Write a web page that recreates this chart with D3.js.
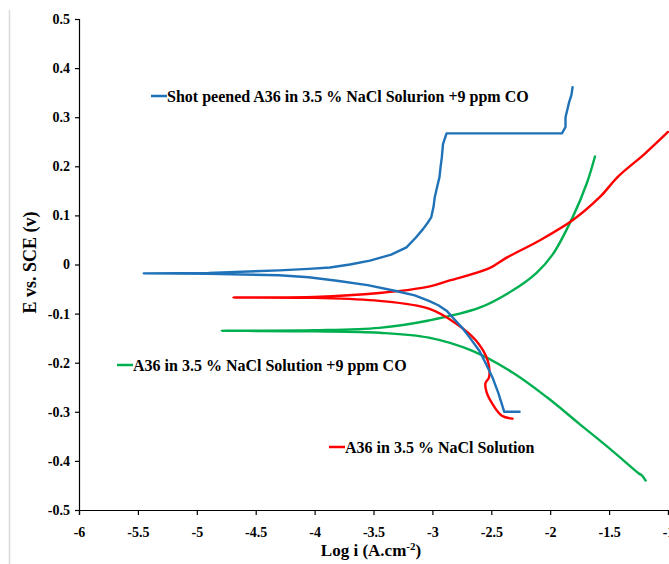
<!DOCTYPE html>
<html>
<head>
<meta charset="utf-8">
<script src="https://cdn.jsdelivr.net/npm/d3@7"></script>
<style>
  body { margin: 0; background: #fff; }
  .axis path, .axis line { stroke: #000; stroke-width: 1.2px; }
  .axis text { font-family: "Liberation Serif", "Times New Roman", serif; font-weight: bold; font-size: 14px; fill: #000; }
  .lbl { font-family: "Liberation Serif", "Times New Roman", serif; font-weight: bold; font-size: 16px; fill: #000; }
  .curve { fill: none; stroke-width: 2.4px; stroke-linejoin: round; stroke-linecap: round; }
</style>
</head>
<body>
<script>
// [log i, E], cathodic end -> Ecorr -> anodic end
var shotPeened = [
  [-2.26,-0.300],[-2.39,-0.300],[-2.44,-0.262],[-2.49,-0.230],[-2.55,-0.200],[-2.60,-0.176],[-2.68,-0.150],
  [-2.75,-0.128],[-2.82,-0.110],[-2.88,-0.094],[-2.95,-0.083],[-3.03,-0.074],[-3.15,-0.063],[-3.31,-0.054],
  [-3.55,-0.042],[-3.81,-0.033],[-4.05,-0.026],[-4.30,-0.022],[-4.90,-0.019],[-5.45,-0.018],
  [-4.90,-0.017],[-4.30,-0.012],[-4.05,-0.009],[-3.87,-0.006],[-3.70,0.000],[-3.53,0.008],[-3.35,0.020],
  [-3.22,0.035],[-3.14,0.055],[-3.08,0.072],[-3.04,0.085],[-3.01,0.096],[-2.99,0.118],[-2.98,0.137],
  [-2.96,0.158],[-2.94,0.178],[-2.93,0.200],[-2.92,0.218],[-2.91,0.245],[-2.88,0.267],[-1.90,0.267],
  [-1.87,0.280],[-1.87,0.300],[-1.84,0.330],[-1.82,0.345],[-1.81,0.361]
];
var naclOnly = [
  [-2.32,-0.314],[-2.41,-0.308],[-2.49,-0.284],[-2.54,-0.260],[-2.55,-0.242],[-2.52,-0.230],[-2.53,-0.196],
  [-2.63,-0.155],[-2.80,-0.120],[-3.03,-0.090],[-3.45,-0.074],[-4.00,-0.068],[-4.69,-0.067],
  [-4.00,-0.066],[-3.45,-0.058],[-3.03,-0.045],[-2.86,-0.033],[-2.52,-0.008],[-2.37,0.014],
  [-2.09,0.049],[-1.81,0.090],[-1.58,0.137],[-1.42,0.180],[-1.20,0.225],[-1.00,0.270]
];
var naclCO = [
  [-1.19,-0.440],[-1.22,-0.430],[-1.25,-0.425],[-1.47,-0.380],[-1.75,-0.325],[-2.03,-0.270],
  [-2.32,-0.220],[-2.66,-0.176],[-3.03,-0.149],[-3.45,-0.139],[-4.00,-0.136],[-4.79,-0.135],
  [-4.00,-0.134],[-3.45,-0.129],[-3.03,-0.114],[-2.60,-0.088],[-2.32,-0.053],[-2.12,-0.018],
  [-1.98,0.020],[-1.81,0.096],[-1.69,0.165],[-1.62,0.220]
];
var xTicks = [-6,-5.5,-5,-4.5,-4,-3.5,-3,-2.5,-2,-1.5,-1];
var yTicks = [-0.5,-0.4,-0.3,-0.2,-0.1,0,0.1,0.2,0.3,0.4,0.5];
var legendNames = [
  "Shot peened A36 in 3.5 % NaCl Solurion +9 ppm CO",
  "A36 in 3.5 % NaCl Solution +9 ppm CO",
  "A36 in 3.5 % NaCl Solution"
];

var W = 669, H = 564;
var margin = {top: 19, right: 1, bottom: 54, left: 79};

var svg = d3.select("body").append("svg")
    .attr("width", W)
    .attr("height", H);

// faint frame line on the left of the original image
svg.append("line")
    .attr("x1", 9.5).attr("x2", 9.5).attr("y1", 10).attr("y2", H)
    .attr("stroke", "#d9d9d9").attr("stroke-width", 1.5);

var x = d3.scaleLinear().domain([-6, -1]).range([margin.left, W - margin.right]);
var y = d3.scaleLinear().domain([-0.5, 0.5]).range([H - margin.bottom, margin.top]);

var fmt = function(d) { return String(+d.toFixed(1)); };

svg.append("g")
    .attr("class", "axis")
    .attr("transform", "translate(0," + y(-0.5) + ")")
    .call(d3.axisBottom(x).tickValues(xTicks).tickFormat(fmt).tickSizeOuter(0).tickSize(5).tickPadding(12));

svg.append("g")
    .attr("class", "axis")
    .attr("transform", "translate(" + x(-6) + ",0)")
    .call(d3.axisLeft(y).tickValues(yTicks).tickFormat(fmt).tickSizeOuter(0).tickSize(4).tickPadding(5));

var smooth = d3.line()
    .curve(d3.curveCatmullRom.alpha(0.5))
    .x(function(d) { return x(d[0]); })
    .y(function(d) { return y(d[1]); });
var rough = d3.line()
    .x(function(d) { return x(d[0]); })
    .y(function(d) { return y(d[1]); });

var series = [
  {data: naclCO, color: "#00b050", gen: smooth},
  {data: naclOnly, color: "#ff0000", gen: smooth},
  {data: shotPeened, color: "#1f72b8", gen: rough}
];

svg.selectAll(".curve")
    .data(series)
  .enter().append("path")
    .attr("class", "curve")
    .attr("stroke", function(d) { return d.color; })
    .attr("d", function(d) { return d.gen(d.data); });

// legends placed beside the curves
var legends = [
  {name: legendNames[0], color: "#1f72b8", lx: 151, ly: 96},
  {name: legendNames[1], color: "#00b050", lx: 117, ly: 365},
  {name: legendNames[2], color: "#ff0000", lx: 329, ly: 447}
];
var lg = svg.selectAll(".leg")
    .data(legends)
  .enter().append("g")
    .attr("class", "leg")
    .attr("transform", function(d) { return "translate(" + d.lx + "," + d.ly + ")"; });
lg.append("line")
    .attr("x1", 0).attr("x2", 16)
    .attr("stroke", function(d) { return d.color; })
    .attr("stroke-width", 2.5);
lg.append("text")
    .attr("class", "lbl")
    .attr("x", 16)
    .attr("dy", "0.35em")
    .text(function(d) { return d.name; });

// axis titles
svg.append("text")
    .attr("class", "lbl")
    .style("font-size", "18px")
    .attr("transform", "translate(30," + (y(0) - 2) + ") rotate(-90)")
    .attr("text-anchor", "middle")
    .attr("dy", "0.35em")
    .text("E vs. SCE (v)");

var xt = svg.append("text")
    .attr("class", "lbl")
    .style("font-size", "17px")
    .attr("x", 371)
    .attr("y", 556)
    .attr("text-anchor", "middle");
xt.append("tspan").text("Log i (A.cm");
xt.append("tspan").attr("dy", -6).style("font-size", "11px").text("-2");
xt.append("tspan").attr("dy", 6).text(")");
</script>
</body>
</html>
